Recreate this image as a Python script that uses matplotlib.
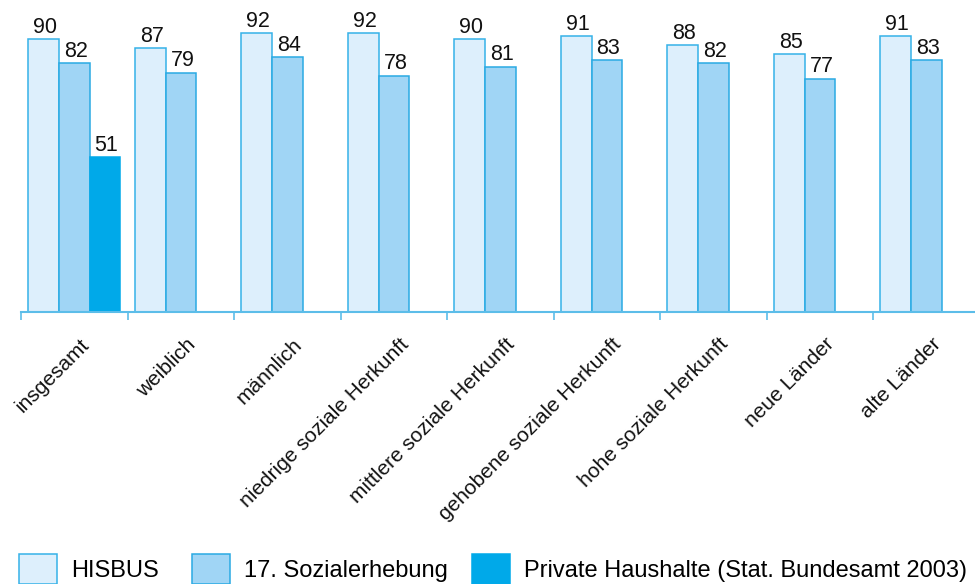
import numpy as np
import matplotlib
matplotlib.use('Agg')
import matplotlib.pyplot as plt
from matplotlib.patches import Patch

plt.rcParams['font.family'] = ['Liberation Sans', 'DejaVu Sans']

# Daten
kategorien = ['insgesamt', 'weiblich', 'männlich', 'niedrige soziale Herkunft',
              'mittlere soziale Herkunft', 'gehobene soziale Herkunft',
              'hohe soziale Herkunft', 'neue Länder', 'alte Länder']
hisbus = [90, 87, 92, 92, 90, 91, 88, 85, 91]
sozialerhebung = [82, 79, 84, 78, 81, 83, 82, 77, 83]
private_haushalte = [51]  # nur für "insgesamt"

serien_namen = ['HISBUS', '17. Sozialerhebung', 'Private Haushalte (Stat. Bundesamt 2003)']

# Farben
fill_farben = ['#ddeffc', '#a0d5f5', '#00a9e9']
kanten_farben = ['#35b2e8', '#2aaae3', '#00a9e9']
achsen_farbe = '#5cbde9'

W, H = 975, 584
fig = plt.figure(figsize=(W / 100, H / 100), dpi=100)

# Achse: Grundlinie bei y=311.7 px, Gruppenbreite 106.5 px, Beginn bei x=21 px
basis_px = 311.7
ax = fig.add_axes([21 / W, (H - basis_px) / H, 9 * 106.5 / W, basis_px / H])
ax.set_xlim(0, 9)
ax.set_ylim(0, basis_px / 3.027)

bar_w = 0.287
offset = 0.07
x = np.arange(len(kategorien))

serien = [hisbus, sozialerhebung, private_haushalte]
for k, werte in enumerate(serien):
    pos = x[:len(werte)] + offset + bar_w * (k + 0.5)
    bars = ax.bar(pos, werte, width=bar_w, color=fill_farben[k],
                  edgecolor=kanten_farben[k], linewidth=1.1)
    for b, v in zip(bars, werte):
        ax.annotate(str(v), (b.get_x() + b.get_width() / 2 + 0.015, v),
                    xytext=(0, 1), textcoords='offset points',
                    ha='center', va='bottom', fontsize=15.5, color='#111111')

# Achsenlinie und Ticks an den Gruppengrenzen
for s in ['left', 'right', 'top']:
    ax.spines[s].set_visible(False)
ax.spines['bottom'].set_color(achsen_farbe)
ax.spines['bottom'].set_linewidth(1.5)
ax.set_yticks([])
ax.set_xticks(np.arange(0, 10))
ax.set_xticklabels([])
ax.tick_params(axis='x', direction='out', length=5.5, width=1.2, color=achsen_farbe)

# Kategorienbeschriftungen, 45° gedreht
for i, name in enumerate(kategorien):
    ax.annotate(name, (i + 0.5, 0), xycoords=('data', 'axes fraction'),
                xytext=(5, -23), textcoords='offset pixels',
                rotation=45, rotation_mode='anchor', ha='right', va='top',
                fontsize=15, color='#111111', annotation_clip=False)

# Legende: drei Einträge mit eigener Position
legend_x = [19, 192, 472]
for k in range(3):
    h = Patch(facecolor=fill_farben[k], edgecolor=kanten_farben[k], linewidth=1.1)
    fig.legend([h], [serien_namen[k]], loc='lower left',
               bbox_to_anchor=(legend_x[k] / W, 0),
               frameon=False, fontsize=17, borderpad=0, borderaxespad=0,
               handlelength=1.6, handleheight=1.55, handletextpad=0.6)

fig.savefig('out.png', dpi=100)
